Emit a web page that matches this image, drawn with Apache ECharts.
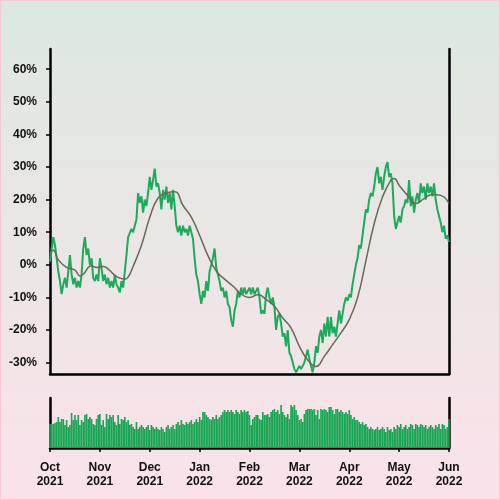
<!DOCTYPE html>
<html>
<head>
<meta charset="utf-8" />
<script src="https://cdn.jsdelivr.net/npm/echarts@6/dist/echarts.min.js"></script>
<style>
  html, body { margin: 0; padding: 0; }
  #chart { width: 500px; height: 500px; box-sizing: border-box; border: 1px solid #f6c8d6; }
</style>
</head>
<body>
<div id="chart"></div>
<script>
// month labels, one every 30 points
const monthLabels = ["Oct\n2021", "Nov\n2021", "Dec\n2021", "Jan\n2022", "Feb\n2022", "Mar\n2022", "Apr\n2022", "May\n2022", "Jun\n2022"];
const pointsPerMonth = 30;

// daily change in %
const priceData = [
  1, 5, 8.5, 6, 2, -2, -5, -9, -6, -4,
  -7, -2, 3, -3, -6, -4, -7, -5, -7, -3,
  5, 8.5, 3, 5, 0, 2, -4, -5, -3, -5,
  2, -1, -5, -3, -6, -4, -7, -5, -7, -3,
  -6, -7, -8.5, -5, -7, -2, 3, 8.5, 9, 11,
  10, 12, 14, 22, 19, 21, 16, 20, 18, 22,
  27, 23, 26, 29.5, 24, 25, 22, 17, 23, 20,
  24, 19, 22, 17, 23, 18, 12, 10, 12, 9,
  12, 10, 11, 9, 12, 10, 8, 2, -3, -5,
  -9, -12, -8, -10, -5, -8, -2, 0, 2, 5,
  -1, -3, -5, -8, -7, -10, -8, -12, -13, -17,
  -19, -14, -12, -8, -10, -7, -9, -7, -9, -8,
  -7, -9, -7, -9, -8, -7, -10, -15, -14, -15,
  -9, -7, -10, -12, -10, -13, -20, -16, -15, -18,
  -22, -21, -25, -20, -27, -28, -30, -32, -33, -32,
  -31, -32, -31, -30, -28, -26, -29, -31, -33, -30,
  -25, -27, -22, -20, -24, -18, -22, -16, -22, -16,
  -21, -19, -22, -18, -14, -18, -15, -12, -10, -11,
  -9, -10, -6, -3, 0, 2, 6, 5, 9, 13,
  17, 16, 20, 22, 21, 24, 28, 30, 25, 27,
  23, 27, 30, 31.5, 27, 28, 25, 15, 11, 13,
  15, 13, 17, 18, 20, 19, 26, 18, 21, 16,
  20, 22, 19, 25, 22, 24, 20, 25, 22, 24,
  21, 25, 20, 17, 15, 13, 10, 12, 8, 9,
  7
];

// moving average, [point index, value]
const avgData = [
  [0, 3.5], [2, 4.5], [5, 1.5], [10, -0.8], [15, -1.6], [18, -3.4], [20, -2.9],
  [25, -0.3], [28, -0.8], [32, -0.5], [35, -1.3], [40, -3.6], [45, -4.4], [47, -3.8],
  [50, -0.5], [55, 6], [60, 14.5], [65, 20.5], [70, 22], [75, 22.4], [80, 18.2],
  [85, 14.6], [90, 9], [95, 2.8], [100, -1.9], [105, -4.4], [110, -6.5], [115, -9],
  [120, -10], [125, -9.2], [130, -10.6], [135, -12.7], [140, -16.3], [145, -19.4],
  [150, -25], [155, -29.2], [160, -31.2], [165, -28.1], [170, -24.5], [175, -20.9],
  [180, -16.8], [185, -10.1], [190, 1.2], [195, 12.6], [200, 20.8], [205, 26],
  [207, 26.5], [210, 24.4], [215, 21.3], [220, 18.8], [225, 20.3], [230, 21.6],
  [235, 21.3], [240, 18.8]
];

// daily volume
const volumeData = [
  24, 24, 24, 25, 26, 31, 26, 29, 29, 23,
  28, 21, 23, 35, 28, 33, 28, 33, 23, 28,
  26, 33, 34, 29, 31, 29, 24, 23, 29, 33,
  34, 23, 28, 21, 34, 29, 33, 31, 33, 26,
  23, 33, 24, 29, 28, 31, 26, 28, 23, 24,
  21, 19, 26, 19, 21, 23, 21, 19, 21, 23,
  18, 23, 21, 19, 21, 19, 18, 21, 19, 16,
  21, 23, 19, 21, 23, 19, 24, 26, 23, 28,
  24, 23, 26, 24, 26, 28, 24, 26, 29, 26,
  31, 28, 36, 36, 33, 31, 29, 28, 31, 29,
  33, 29, 31, 33, 36, 38, 36, 38, 36, 38,
  36, 34, 38, 36, 34, 38, 36, 38, 36, 37,
  33, 23, 29, 31, 33, 33, 29, 28, 36, 33,
  33, 34, 31, 36, 38, 39, 36, 38, 34, 43,
  36, 33, 31, 34, 29, 43, 41, 43, 38, 33,
  28, 29, 26, 34, 38, 39, 39, 39, 38, 39,
  33, 38, 29, 39, 38, 39, 38, 36, 41, 41,
  38, 34, 39, 39, 36, 38, 36, 34, 36, 34,
  38, 33, 29, 31, 28, 28, 26, 24, 26, 23,
  24, 21, 19, 21, 19, 18, 19, 21, 18, 19,
  21, 19, 16, 21, 18, 19, 16, 21, 19, 23,
  21, 24, 19, 21, 23, 19, 21, 24, 23, 19,
  24, 23, 21, 24, 23, 21, 23, 19, 21, 23,
  21, 19, 23, 21, 24, 19, 24, 23, 19, 21,
  29
];

const yTicks = [-30, -20, -10, 0, 10, 20, 30, 40, 50, 60];

const categories = priceData.map((v, i) =>
  i % pointsPerMonth === 0 ? monthLabels[i / pointsPerMonth] : String(i)
);

const axisColor = "#000";
const labelFont = {
  color: "#111",
  fontFamily: "Liberation Sans",
  fontWeight: "bold",
  fontSize: 12,
};

const chart = echarts.init(document.getElementById("chart"));
chart.setOption({
  animation: false,
  backgroundColor: new echarts.graphic.LinearGradient(0, 0, 0, 1, [
    { offset: 0, color: "#dbe9e0" },
    { offset: 1, color: "#fbe2ea" },
  ]),
  grid: [
    { left: 49, right: 50, top: 48, height: 325 },
    { left: 49, right: 50, top: 397, height: 50 },
  ],
  xAxis: [
    {
      type: "category",
      gridIndex: 0,
      data: categories,
      boundaryGap: false,
      axisLine: { onZero: false, lineStyle: { color: axisColor, width: 2.5 } },
      axisTick: { show: false },
      axisLabel: { show: false },
    },
    {
      type: "category",
      gridIndex: 1,
      data: categories,
      boundaryGap: false,
      axisLine: { onZero: false, lineStyle: { color: axisColor, width: 2.5 } },
      axisTick: {
        interval: pointsPerMonth - 1,
        length: 4,
        lineStyle: { color: axisColor, width: 1.5 },
      },
      axisLabel: Object.assign(
        { interval: pointsPerMonth - 1, margin: 13, lineHeight: 14 },
        labelFont
      ),
    },
  ],
  yAxis: [
    {
      type: "value",
      gridIndex: 0,
      min: -33.5,
      max: 66.2,
      axisLine: { show: true, lineStyle: { color: axisColor, width: 2.5 } },
      axisTick: {
        show: true,
        customValues: yTicks,
        length: 4,
        lineStyle: { color: axisColor, width: 1.5 },
      },
      axisLabel: Object.assign(
        { customValues: yTicks, margin: 13, formatter: "{value}%" },
        labelFont
      ),
      splitLine: { show: false },
    },
    {
      type: "value",
      gridIndex: 0,
      position: "right",
      min: -33.5,
      max: 66.2,
      axisLine: { show: true, lineStyle: { color: axisColor, width: 2.5 } },
      axisTick: { show: false },
      axisLabel: { show: false },
      splitLine: { show: false },
    },
    {
      type: "value",
      gridIndex: 1,
      min: 0,
      max: 50,
      axisLine: { show: true, lineStyle: { color: axisColor, width: 2.5 } },
      axisTick: { show: false },
      axisLabel: { show: false },
      splitLine: { show: false },
    },
    {
      type: "value",
      gridIndex: 1,
      position: "right",
      min: 0,
      max: 50,
      axisLine: { show: true, lineStyle: { color: axisColor, width: 2.5 } },
      axisTick: { show: false },
      axisLabel: { show: false },
      splitLine: { show: false },
    },
  ],
  series: [
    {
      name: "Price",
      type: "line",
      xAxisIndex: 0,
      yAxisIndex: 0,
      data: priceData,
      showSymbol: false,
      lineStyle: { color: "#1daa5a", width: 2 },
      z: 2,
    },
    {
      name: "Average",
      type: "line",
      xAxisIndex: 0,
      yAxisIndex: 0,
      data: avgData,
      smooth: true,
      showSymbol: false,
      lineStyle: { color: "#676a55", width: 1.5 },
      z: 3,
    },
    {
      name: "Volume",
      type: "bar",
      xAxisIndex: 1,
      yAxisIndex: 2,
      data: volumeData,
      barCategoryGap: "0%",
      itemStyle: { color: "#19a553" },
    },
  ],
});
</script>
</body>
</html>
